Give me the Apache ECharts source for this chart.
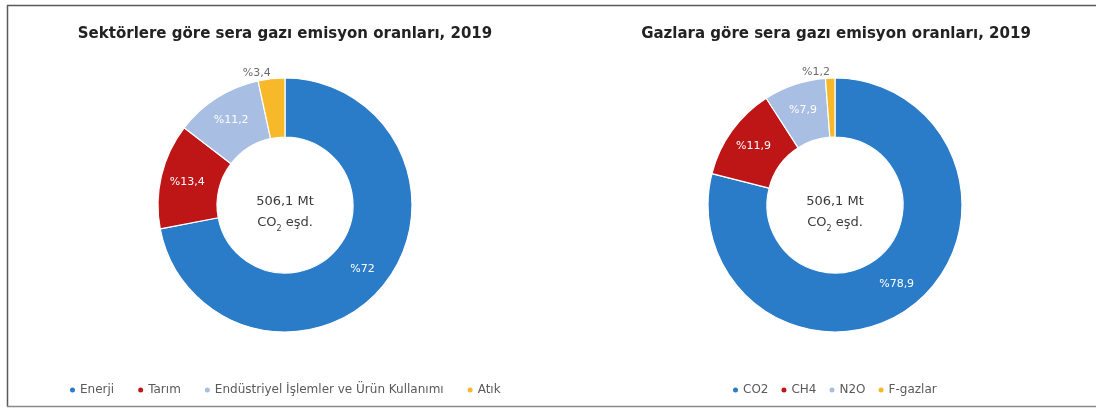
<!DOCTYPE html>
<html>
<head>
<meta charset="utf-8">
<script src="https://cdn.jsdelivr.net/npm/echarts@6/dist/echarts.min.js"></script>
<style>
  html, body { margin: 0; padding: 0; background: #fff; }
  #chart { width: 1096px; height: 408px; }
</style>
</head>
<body>
<div id="chart"></div>
<script>
// Sector breakdown, 2019 (%)
const sectorNames = ['Enerji', 'Tarım', 'Endüstriyel İşlemler ve Ürün Kullanımı', 'Atık'];
const sectorValues = [72, 13.4, 11.2, 3.4];

// Gas breakdown, 2019 (%)
const gasNames = ['CO2', 'CH4', 'N2O', 'F-gazlar'];
const gasValues = [78.9, 11.9, 7.9, 1.2];

const titles = ['Sektörlere göre sera gazı emisyon oranları, 2019', 'Gazlara göre sera gazı emisyon oranları, 2019'];
const totalLine1 = '506,1 Mt';

const palette = ['#2A7BC8', '#BE1517', '#A8BEE2', '#F7B82A'];
const FONT = '"DejaVu Sans", "Liberation Sans", Arial, sans-serif';

function pct(v) {
  return '%' + String(v).replace('.', ',');
}

function buildData(names, values) {
  return names.map((n, i) => {
    const item = { name: n, value: values[i] };
    if (i === names.length - 1) {
      item.label = {
        position: 'outside',
        color: '#6b6b6b',
        distanceToLabelLine: 0
      };
      item.labelLine = { show: false, length: 6, length2: 0 };
    }
    return item;
  });
}

function pieSeries(names, values, cx) {
  return {
    type: 'pie',
    center: [cx, 205],
    radius: [68, 127],
    startAngle: 90,
    clockwise: true,
    avoidLabelOverlap: false,
    itemStyle: { borderColor: '#fff', borderWidth: 1.2 },
    label: {
      show: true,
      position: 'inside',
      color: '#fff',
      fontFamily: FONT,
      fontSize: 11,
      formatter: p => pct(p.value)
    },
    emphasis: { disabled: true },
    data: buildData(names, values)
  };
}

function centerText(cx) {
  return {
    type: 'text',
    x: cx,
    y: 212,
    style: {
      text: '{a|' + totalLine1 + '}\n{a|CO}{s|2}{a| eşd.}',
      rich: {
        a: { fontSize: 13, fontFamily: FONT, fill: '#3a3a3a', lineHeight: 21 },
        s: { fontSize: 8, fontFamily: FONT, fill: '#3a3a3a', lineHeight: 21, verticalAlign: 'bottom', padding: [8, 0, 0, 0] }
      },
      align: 'center',
      verticalAlign: 'middle'
    }
  };
}

const chart = echarts.init(document.getElementById('chart'), null, { renderer: 'canvas' });

const titleStyle = { fontFamily: FONT, fontSize: 15, fontWeight: 'bold', color: '#222' };
const legendText = { fontFamily: FONT, fontSize: 12, color: '#5a5a5a', padding: [0, 0, 0, -1] };

chart.setOption({
  backgroundColor: '#fff',
  color: palette,
  animation: false,
  title: [
    { text: titles[0], left: 280, top: 22, textAlign: 'center', textStyle: titleStyle },
    { text: titles[1], left: 831, top: 22, textAlign: 'center', textStyle: titleStyle }
  ],
  legend: [
    { data: sectorNames, left: 63, top: 379, icon: 'circle', itemWidth: 7, itemHeight: 7, itemGap: 22,
      textStyle: legendText },
    { data: gasNames, left: 726, top: 379, icon: 'circle', itemWidth: 7, itemHeight: 7, itemGap: 11,
      textStyle: legendText }
  ],
  graphic: [
    // frame lines
    { type: 'line', shape: { x1: 7, y1: 5.5, x2: 1096, y2: 5.5 }, style: { stroke: '#5a5a5a', lineWidth: 1.5 } },
    { type: 'line', shape: { x1: 7.5, y1: 5, x2: 7.5, y2: 407 }, style: { stroke: '#5a5a5a', lineWidth: 1.5 } },
    { type: 'line', shape: { x1: 7, y1: 406.5, x2: 1096, y2: 406.5 }, style: { stroke: '#8a8a8a', lineWidth: 1.5 } },
    centerText(285),
    centerText(835)
  ],
  series: [
    pieSeries(sectorNames, sectorValues, 285),
    pieSeries(gasNames, gasValues, 835)
  ]
});
</script>
</body>
</html>
